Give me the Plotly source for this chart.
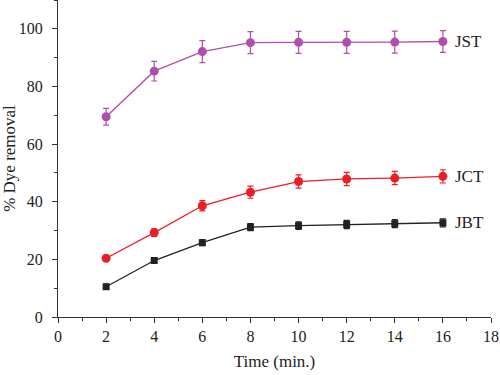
import plotly.graph_objects as go

time = [2, 4, 6, 8, 10, 12, 14, 16]
jst = [69.5, 85.3, 92.1, 95.2, 95.3, 95.3, 95.4, 95.6]
jst_err = [2.9, 3.4, 3.8, 3.8, 3.8, 3.8, 3.8, 3.8]
jct = [20.4, 29.3, 38.6, 43.3, 47.0, 47.9, 48.2, 48.8]
jct_err = [0.9, 1.3, 1.8, 2.1, 2.3, 2.3, 2.3, 2.3]
jbt = [10.5, 19.6, 25.8, 31.2, 31.7, 32.1, 32.4, 32.7]
jbt_err = [0.8, 0.9, 1.0, 1.2, 1.3, 1.4, 1.4, 1.4]
names = ["JST", "JCT", "JBT"]

font = "Liberation Serif, Times New Roman, serif"
fig = go.Figure()
series = [
    (jst, jst_err, "#B04FA8", "circle", 9),
    (jct, jct_err, "#EE1C25", "circle", 9),
    (jbt, jbt_err, "#222222", "square", 7),
]
for name, (y, e, c, sym, sz) in zip(names, series):
    fig.add_trace(go.Scatter(
        x=time, y=y, mode="lines+markers", name=name,
        line=dict(color=c, width=1.3),
        marker=dict(color=c, symbol=sym, size=sz),
        error_y=dict(type="data", array=e, color=c, thickness=1.2, width=3),
    ))
    fig.add_annotation(x=time[-1], y=y[-1], text=name, showarrow=False,
                       xanchor="left", xshift=10, font=dict(family=font, size=17, color="#222"))

fig.update_layout(
    width=500, height=375,
    margin=dict(l=58, r=9, t=0, b=58),
    plot_bgcolor="white", paper_bgcolor="white",
    showlegend=False,
    font=dict(family=font, size=16, color="#222"),
)
fig.update_xaxes(range=[0, 18], tickvals=list(range(0, 19, 2)), showline=True, linecolor="#333",
                 linewidth=1, ticks="outside", ticklen=5, tickcolor="#333", showgrid=False, zeroline=False,
                 automargin=False,
                 minor=dict(dtick=1, ticks="outside", ticklen=3, tickcolor="#333"),
                 title=dict(text="Time (min.)", font=dict(size=17), standoff=10))
fig.update_yaxes(range=[0, 110], tickvals=list(range(0, 101, 20)), showline=True, linecolor="#333",
                 linewidth=1, ticks="outside", ticklen=5, tickcolor="#333", showgrid=False, zeroline=False,
                 automargin=False, ticklabelstandoff=6,
                 minor=dict(dtick=10, ticks="outside", ticklen=3, tickcolor="#333"),
                 title=dict(text="% Dye removal", font=dict(size=17), standoff=6))
fig.write_html("out.html", post_script="document.body.style.margin='0';",
               config={"displayModeBar": False})
